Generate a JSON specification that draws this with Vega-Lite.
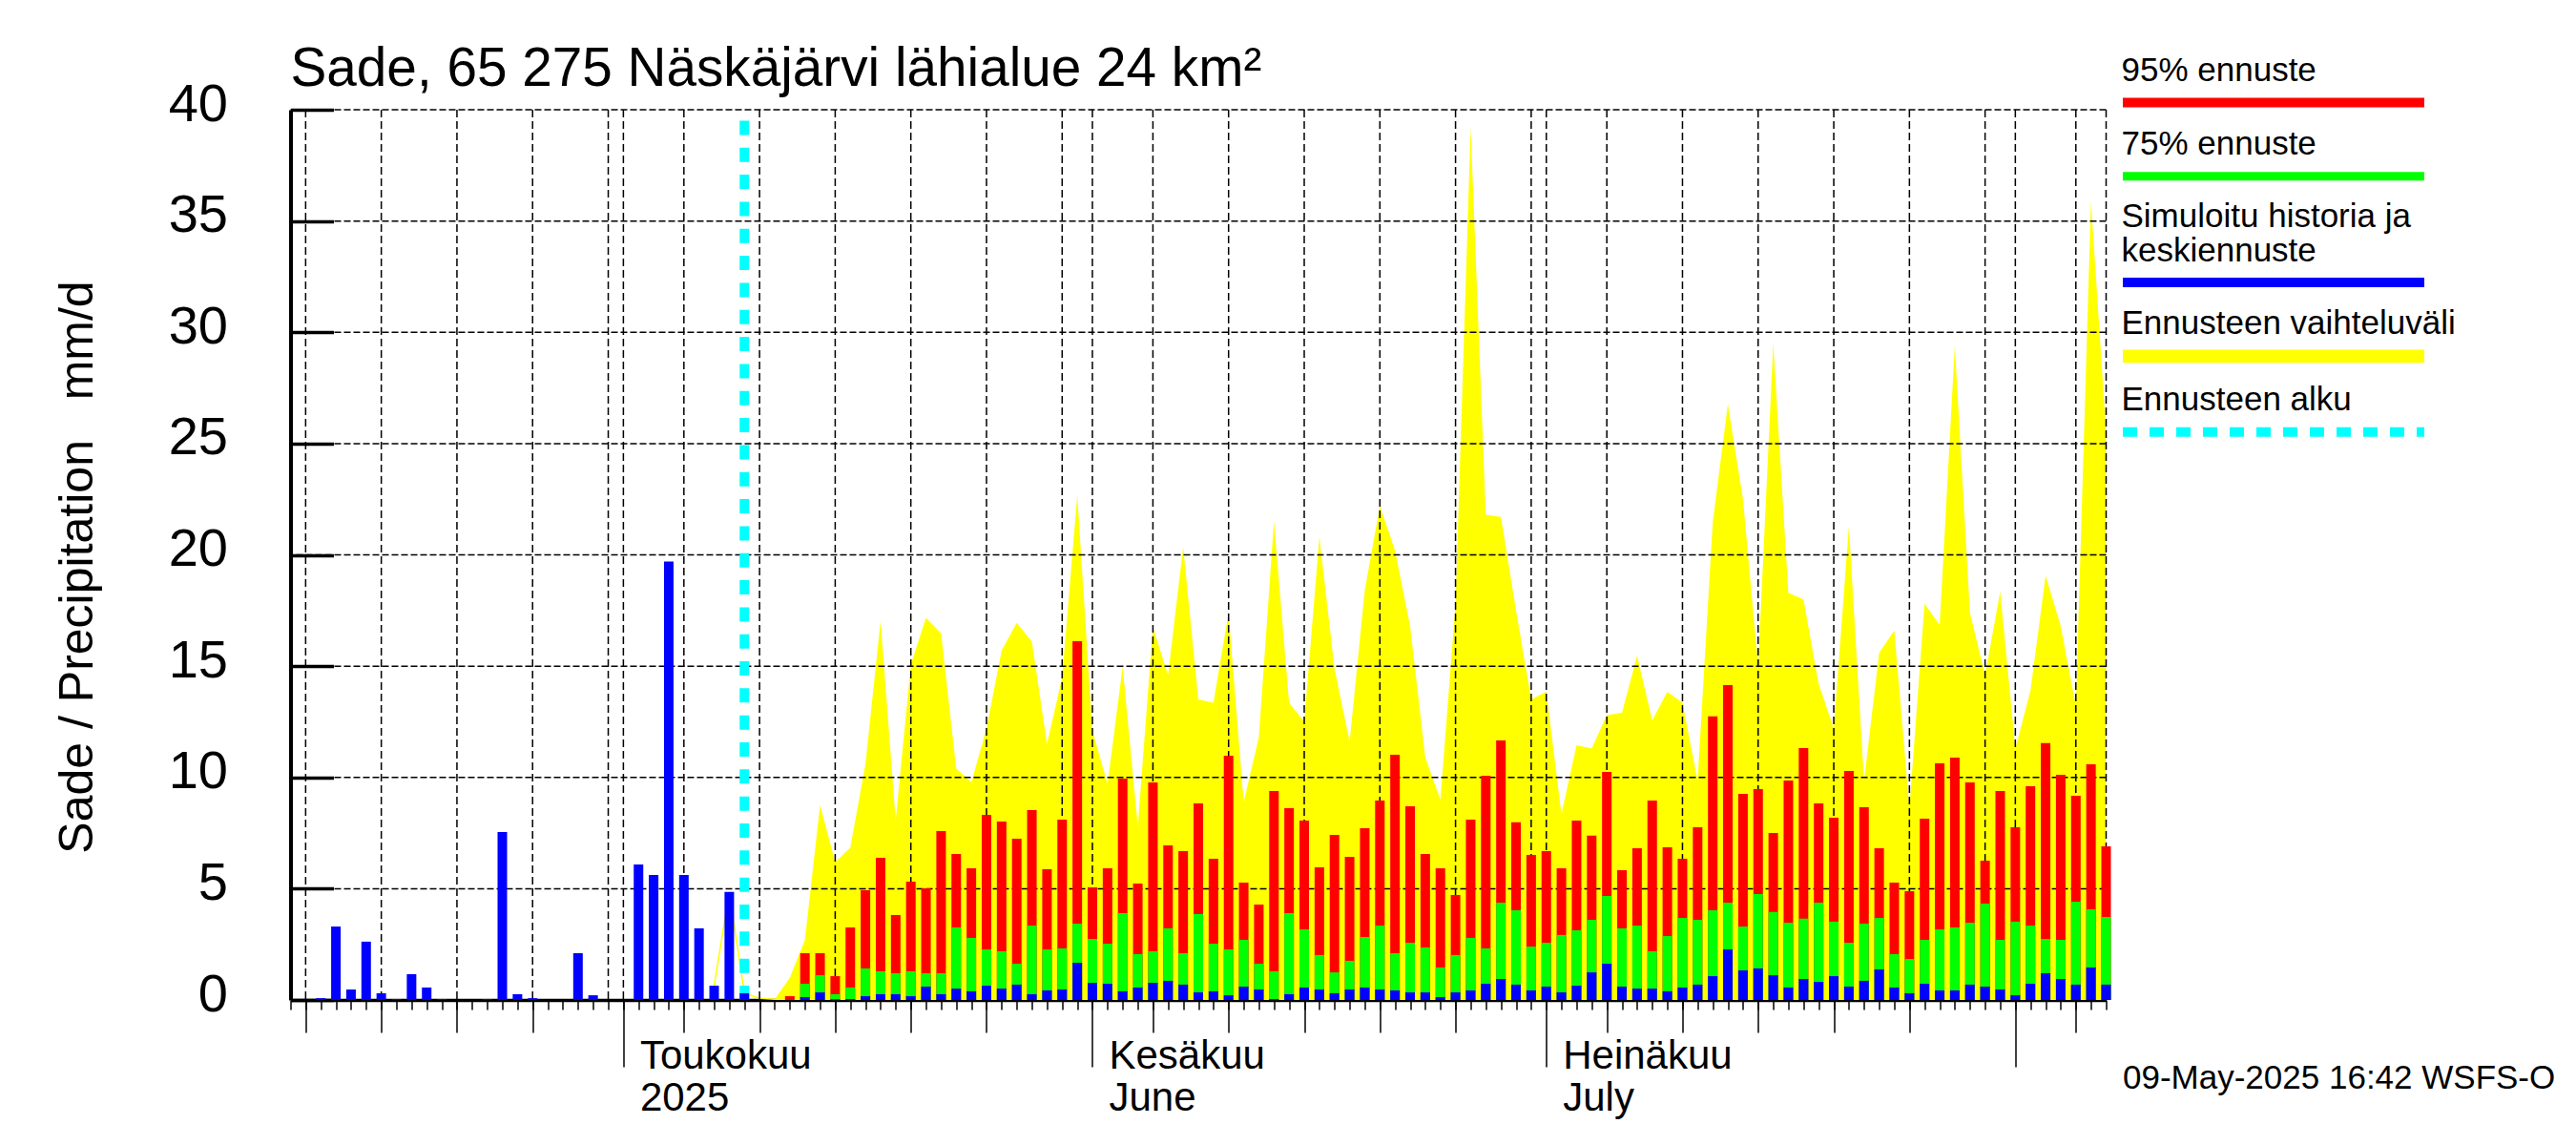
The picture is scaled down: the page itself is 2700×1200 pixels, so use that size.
{
  "$schema": "https://vega.github.io/schema/vega-lite/v6.json",
  "width": 1903,
  "height": 933,
  "autosize": {"type": "none"},
  "padding": {"left": 304.5, "top": 115, "right": 492.5, "bottom": 152},
  "background": "#ffffff",
  "title": {
    "text": "Sade, 65 275 Näskäjärvi lähialue 24 km²",
    "anchor": "start",
    "frame": "group",
    "font": "Liberation Sans",
    "fontSize": 56.7,
    "fontWeight": "normal",
    "color": "#000000",
    "baseline": "alphabetic",
    "offset": -66
  },
  "config": {
    "view": {"stroke": null},
    "axis": {
      "labelFont": "Liberation Sans",
      "titleFont": "Liberation Sans",
      "labelColor": "#000000",
      "titleColor": "#000000",
      "titleFontWeight": "normal",
      "domainColor": "#000000",
      "tickColor": "#000000",
      "zindex": 1,
      "grid": false
    }
  },
  "datasets": {
    "history": [
      {"date": "2025-04-11", "mean": 0.08},
      {"date": "2025-04-12", "mean": 3.3},
      {"date": "2025-04-13", "mean": 0.47},
      {"date": "2025-04-14", "mean": 2.62},
      {"date": "2025-04-15", "mean": 0.3},
      {"date": "2025-04-16", "mean": 0.04},
      {"date": "2025-04-17", "mean": 1.16},
      {"date": "2025-04-18", "mean": 0.56},
      {"date": "2025-04-19", "mean": 0.04},
      {"date": "2025-04-22", "mean": 0.04},
      {"date": "2025-04-23", "mean": 7.55},
      {"date": "2025-04-24", "mean": 0.26},
      {"date": "2025-04-25", "mean": 0.08},
      {"date": "2025-04-28", "mean": 2.1},
      {"date": "2025-04-29", "mean": 0.21},
      {"date": "2025-05-02", "mean": 6.09},
      {"date": "2025-05-03", "mean": 5.62},
      {"date": "2025-05-04", "mean": 19.7},
      {"date": "2025-05-05", "mean": 5.62},
      {"date": "2025-05-06", "mean": 3.22},
      {"date": "2025-05-07", "mean": 0.64},
      {"date": "2025-05-08", "mean": 4.85},
      {"date": "2025-05-09", "mean": 0.3}
    ],
    "spike": [
      {"date": "2025-05-07", "value": 0.64},
      {"date": "2025-05-08", "value": 4.85},
      {"date": "2025-05-09", "value": 0.3},
      {"date": "2025-05-10", "value": 0.08},
      {"date": "2025-05-11", "value": 0.03}
    ],
    "forecast": [
      {"date": "2025-05-11", "hi": 0.03, "p95": 0, "p75": 0, "mean": 0},
      {"date": "2025-05-12", "hi": 1.0, "p95": 0.17, "p75": 0, "mean": 0},
      {"date": "2025-05-13", "hi": 2.7, "p95": 2.1, "p75": 0.73, "mean": 0.13},
      {"date": "2025-05-14", "hi": 8.76, "p95": 2.1, "p75": 1.11, "mean": 0.34},
      {"date": "2025-05-15", "hi": 6.2, "p95": 1.07, "p75": 0.26, "mean": 0.03},
      {"date": "2025-05-16", "hi": 6.85, "p95": 3.26, "p75": 0.56, "mean": 0.04},
      {"date": "2025-05-17", "hi": 10.6, "p95": 4.93, "p75": 1.42, "mean": 0.17},
      {"date": "2025-05-18", "hi": 17.04, "p95": 6.39, "p75": 1.29, "mean": 0.26},
      {"date": "2025-05-19", "hi": 8.06, "p95": 3.82, "p75": 1.2, "mean": 0.26},
      {"date": "2025-05-20", "hi": 15.07, "p95": 5.32, "p75": 1.29, "mean": 0.17},
      {"date": "2025-05-21", "hi": 17.17, "p95": 5.02, "p75": 1.2, "mean": 0.6},
      {"date": "2025-05-22", "hi": 16.47, "p95": 7.59, "p75": 1.2, "mean": 0.26},
      {"date": "2025-05-23", "hi": 10.4, "p95": 6.56, "p75": 3.26, "mean": 0.51},
      {"date": "2025-05-24", "hi": 9.78, "p95": 5.92, "p75": 2.79, "mean": 0.39},
      {"date": "2025-05-25", "hi": 12.2, "p95": 8.32, "p75": 2.27, "mean": 0.64},
      {"date": "2025-05-26", "hi": 15.7, "p95": 8.02, "p75": 2.19, "mean": 0.51},
      {"date": "2025-05-27", "hi": 16.95, "p95": 7.25, "p75": 1.63, "mean": 0.69},
      {"date": "2025-05-28", "hi": 16.1, "p95": 8.53, "p75": 3.34, "mean": 0.26},
      {"date": "2025-05-29", "hi": 11.5, "p95": 5.87, "p75": 2.27, "mean": 0.43},
      {"date": "2025-05-30", "hi": 14.5, "p95": 8.1, "p75": 2.32, "mean": 0.47},
      {"date": "2025-05-31", "hi": 22.67, "p95": 16.12, "p75": 3.43, "mean": 1.67},
      {"date": "2025-06-01", "hi": 12.1, "p95": 5.06, "p75": 2.74, "mean": 0.77},
      {"date": "2025-06-02", "hi": 9.7, "p95": 5.92, "p75": 2.53, "mean": 0.73},
      {"date": "2025-06-03", "hi": 14.97, "p95": 9.95, "p75": 3.9, "mean": 0.39},
      {"date": "2025-06-04", "hi": 7.8, "p95": 5.23, "p75": 2.06, "mean": 0.56},
      {"date": "2025-06-05", "hi": 16.75, "p95": 9.78, "p75": 2.19, "mean": 0.77},
      {"date": "2025-06-06", "hi": 14.6, "p95": 6.95, "p75": 3.22, "mean": 0.86},
      {"date": "2025-06-07", "hi": 20.35, "p95": 6.69, "p75": 2.1, "mean": 0.69},
      {"date": "2025-06-08", "hi": 13.5, "p95": 8.83, "p75": 3.86, "mean": 0.34},
      {"date": "2025-06-09", "hi": 13.35, "p95": 6.35, "p75": 2.53, "mean": 0.39},
      {"date": "2025-06-10", "hi": 17.4, "p95": 10.98, "p75": 2.27, "mean": 0.21},
      {"date": "2025-06-11", "hi": 8.9, "p95": 5.27, "p75": 2.7, "mean": 0.6},
      {"date": "2025-06-12", "hi": 11.8, "p95": 4.29, "p75": 1.63, "mean": 0.47},
      {"date": "2025-06-13", "hi": 21.5, "p95": 9.39, "p75": 1.29, "mean": 0.04},
      {"date": "2025-06-14", "hi": 13.35, "p95": 8.62, "p75": 3.9, "mean": 0.26},
      {"date": "2025-06-15", "hi": 12.5, "p95": 8.06, "p75": 3.17, "mean": 0.56},
      {"date": "2025-06-16", "hi": 20.8, "p95": 5.96, "p75": 2.02, "mean": 0.47},
      {"date": "2025-06-17", "hi": 14.9, "p95": 7.42, "p75": 1.24, "mean": 0.3},
      {"date": "2025-06-18", "hi": 11.6, "p95": 6.43, "p75": 1.76, "mean": 0.47},
      {"date": "2025-06-19", "hi": 18.4, "p95": 7.72, "p75": 2.83, "mean": 0.56},
      {"date": "2025-06-20", "hi": 22.2, "p95": 8.96, "p75": 3.34, "mean": 0.47},
      {"date": "2025-06-21", "hi": 20.2, "p95": 11.02, "p75": 2.1, "mean": 0.43},
      {"date": "2025-06-22", "hi": 16.8, "p95": 8.7, "p75": 2.57, "mean": 0.34},
      {"date": "2025-06-23", "hi": 10.9, "p95": 6.56, "p75": 2.36, "mean": 0.34},
      {"date": "2025-06-24", "hi": 9.0, "p95": 5.92, "p75": 1.46, "mean": 0.13},
      {"date": "2025-06-25", "hi": 17.8, "p95": 4.72, "p75": 2.02, "mean": 0.34},
      {"date": "2025-06-26", "hi": 39.2, "p95": 8.1, "p75": 2.79, "mean": 0.43},
      {"date": "2025-06-27", "hi": 21.8, "p95": 10.08, "p75": 2.32, "mean": 0.73},
      {"date": "2025-06-28", "hi": 21.7, "p95": 11.66, "p75": 4.37, "mean": 0.94},
      {"date": "2025-06-29", "hi": 17.5, "p95": 7.98, "p75": 4.03, "mean": 0.69},
      {"date": "2025-06-30", "hi": 13.5, "p95": 6.52, "p75": 2.4, "mean": 0.43},
      {"date": "2025-07-01", "hi": 13.85, "p95": 6.69, "p75": 2.57, "mean": 0.6},
      {"date": "2025-07-02", "hi": 8.35, "p95": 5.92, "p75": 2.92, "mean": 0.34},
      {"date": "2025-07-03", "hi": 11.45, "p95": 8.06, "p75": 3.13, "mean": 0.64},
      {"date": "2025-07-04", "hi": 11.3, "p95": 7.38, "p75": 3.6, "mean": 1.24},
      {"date": "2025-07-05", "hi": 12.8, "p95": 10.25, "p75": 4.67, "mean": 1.63},
      {"date": "2025-07-06", "hi": 12.9, "p95": 5.83, "p75": 3.22, "mean": 0.6},
      {"date": "2025-07-07", "hi": 15.47, "p95": 6.82, "p75": 3.34, "mean": 0.51},
      {"date": "2025-07-08", "hi": 12.56, "p95": 8.96, "p75": 2.19, "mean": 0.51},
      {"date": "2025-07-09", "hi": 13.85, "p95": 6.86, "p75": 2.87, "mean": 0.39},
      {"date": "2025-07-10", "hi": 13.35, "p95": 6.35, "p75": 3.69, "mean": 0.56},
      {"date": "2025-07-11", "hi": 9.85, "p95": 7.76, "p75": 3.6, "mean": 0.69},
      {"date": "2025-07-12", "hi": 21.45, "p95": 12.74, "p75": 4.03, "mean": 1.07},
      {"date": "2025-07-13", "hi": 26.77, "p95": 14.15, "p75": 4.37, "mean": 2.27},
      {"date": "2025-07-14", "hi": 22.5, "p95": 9.26, "p75": 3.3, "mean": 1.33},
      {"date": "2025-07-15", "hi": 15.0, "p95": 9.48, "p75": 4.76, "mean": 1.42},
      {"date": "2025-07-16", "hi": 29.47, "p95": 7.5, "p75": 3.95, "mean": 1.11},
      {"date": "2025-07-17", "hi": 18.3, "p95": 9.86, "p75": 3.47, "mean": 0.56},
      {"date": "2025-07-18", "hi": 18.0, "p95": 11.32, "p75": 3.65, "mean": 0.94},
      {"date": "2025-07-19", "hi": 14.2, "p95": 8.83, "p75": 4.37, "mean": 0.81},
      {"date": "2025-07-20", "hi": 12.2, "p95": 8.19, "p75": 3.52, "mean": 1.07},
      {"date": "2025-07-21", "hi": 21.3, "p95": 10.29, "p75": 2.57, "mean": 0.6},
      {"date": "2025-07-22", "hi": 9.85, "p95": 8.66, "p75": 3.43, "mean": 0.86},
      {"date": "2025-07-23", "hi": 15.6, "p95": 6.82, "p75": 3.69, "mean": 1.37},
      {"date": "2025-07-24", "hi": 16.6, "p95": 5.27, "p75": 2.06, "mean": 0.56},
      {"date": "2025-07-25", "hi": 8.63, "p95": 4.89, "p75": 1.84, "mean": 0.3},
      {"date": "2025-07-26", "hi": 17.8, "p95": 8.15, "p75": 2.7, "mean": 0.73},
      {"date": "2025-07-27", "hi": 16.85, "p95": 10.63, "p75": 3.17, "mean": 0.43},
      {"date": "2025-07-28", "hi": 29.4, "p95": 10.89, "p75": 3.26, "mean": 0.43},
      {"date": "2025-07-29", "hi": 17.4, "p95": 9.78, "p75": 3.47, "mean": 0.69},
      {"date": "2025-07-30", "hi": 14.6, "p95": 6.26, "p75": 4.33, "mean": 0.6},
      {"date": "2025-07-31", "hi": 18.35, "p95": 9.39, "p75": 2.7, "mean": 0.47},
      {"date": "2025-08-01", "hi": 11.3, "p95": 7.76, "p75": 3.52, "mean": 0.21},
      {"date": "2025-08-02", "hi": 13.9, "p95": 9.6, "p75": 3.34, "mean": 0.73},
      {"date": "2025-08-03", "hi": 19.07, "p95": 11.54, "p75": 2.74, "mean": 1.2},
      {"date": "2025-08-04", "hi": 16.8, "p95": 10.12, "p75": 2.7, "mean": 0.94},
      {"date": "2025-08-05", "hi": 13.2, "p95": 9.18, "p75": 4.42, "mean": 0.69},
      {"date": "2025-08-06", "hi": 35.9, "p95": 10.59, "p75": 4.07, "mean": 1.46},
      {"date": "2025-08-07", "hi": 25.5, "p95": 6.9, "p75": 3.73, "mean": 0.69}
    ],
    "xgrid": [
      {"date": "2025-04-10"}, {"date": "2025-04-15"}, {"date": "2025-04-20"}, {"date": "2025-04-25"}, {"date": "2025-04-30"},
      {"date": "2025-05-01"}, {"date": "2025-05-05"}, {"date": "2025-05-10"}, {"date": "2025-05-15"}, {"date": "2025-05-20"}, {"date": "2025-05-25"}, {"date": "2025-05-30"},
      {"date": "2025-06-01"}, {"date": "2025-06-05"}, {"date": "2025-06-10"}, {"date": "2025-06-15"}, {"date": "2025-06-20"}, {"date": "2025-06-25"}, {"date": "2025-06-30"},
      {"date": "2025-07-01"}, {"date": "2025-07-05"}, {"date": "2025-07-10"}, {"date": "2025-07-15"}, {"date": "2025-07-20"}, {"date": "2025-07-25"}, {"date": "2025-07-30"},
      {"date": "2025-08-01"}, {"date": "2025-08-05"}, {"date": "2025-08-07"}
    ],
    "ygrid": [
      {"level": 5}, {"level": 10}, {"level": 15}, {"level": 20}, {"level": 25}, {"level": 30}, {"level": 35}, {"level": 40}
    ],
    "start": [
      {"date": "2025-05-09", "from": 0, "to": 40}
    ]
  },
  "resolve": {"axis": {"x": "independent"}},
  "layer": [
    {
      "data": {"name": "forecast"},
      "mark": {"type": "area", "color": "#ffff00", "interpolate": "linear"},
      "encoding": {
        "x": {
          "field": "date",
          "type": "temporal",
          "scale": {"type": "utc", "padding": 0, "domain": [{"year": 2025, "month": 4, "date": 9, "utc": true}, {"year": 2025, "month": 8, "date": 7, "utc": true}]},
          "axis": {
            "orient": "bottom",
            "title": "09-May-2025 16:42 WSFS-O",
            "titleFontSize": 35,
            "titleX": 1920,
            "titleY": 92,
            "titleAlign": "left",
            "titleBaseline": "alphabetic",
            "labels": false,
            "tickCount": {"interval": "day", "step": 1},
            "tickSize": 10,
            "tickWidth": 1.5,
            "domainWidth": 3.5
          }
        },
        "y": {
          "field": "hi",
          "type": "quantitative",
          "scale": {"domain": [0, 40], "nice": false},
          "axis": {
            "title": "Sade / Precipitation\u00a0\u00a0\u00a0mm/d",
            "titleFontSize": 50,
            "titleX": -208.5,
            "titleY": 479,
            "titleAngle": -90,
            "titleAlign": "center",
            "titleBaseline": "alphabetic",
            "values": [0, 5, 10, 15, 20, 25, 30, 35, 40],
            "labelFontSize": 56,
            "labelOffset": -6,
            "labelPadding": 111,
            "tickSize": -45,
            "tickWidth": 3.5,
            "domainWidth": 4
          }
        }
      }
    },
    {
      "data": {"name": "spike"},
      "mark": {"type": "line", "color": "#ffff00", "strokeWidth": 1.5},
      "encoding": {
        "x": {"field": "date", "type": "temporal", "axis": null},
        "y": {"field": "value", "type": "quantitative"}
      }
    },
    {
      "data": {"name": "xgrid"},
      "mark": {"type": "rule", "color": "#000000", "strokeWidth": 1.5, "strokeDash": [8, 4]},
      "encoding": {
        "x": {
          "field": "date",
          "type": "temporal",
          "axis": {
            "orient": "bottom",
            "title": null,
            "labels": false,
            "domain": false,
            "tickSize": 34,
            "tickWidth": 1.5,
            "values": [
              {"year": 2025, "month": 4, "date": 10, "utc": true}, {"year": 2025, "month": 4, "date": 15, "utc": true}, {"year": 2025, "month": 4, "date": 20, "utc": true}, {"year": 2025, "month": 4, "date": 25, "utc": true},
              {"year": 2025, "month": 5, "date": 5, "utc": true}, {"year": 2025, "month": 5, "date": 10, "utc": true}, {"year": 2025, "month": 5, "date": 15, "utc": true}, {"year": 2025, "month": 5, "date": 20, "utc": true}, {"year": 2025, "month": 5, "date": 25, "utc": true},
              {"year": 2025, "month": 6, "date": 5, "utc": true}, {"year": 2025, "month": 6, "date": 10, "utc": true}, {"year": 2025, "month": 6, "date": 15, "utc": true}, {"year": 2025, "month": 6, "date": 20, "utc": true}, {"year": 2025, "month": 6, "date": 25, "utc": true},
              {"year": 2025, "month": 7, "date": 5, "utc": true}, {"year": 2025, "month": 7, "date": 10, "utc": true}, {"year": 2025, "month": 7, "date": 15, "utc": true}, {"year": 2025, "month": 7, "date": 20, "utc": true}, {"year": 2025, "month": 7, "date": 25, "utc": true},
              {"year": 2025, "month": 8, "date": 5, "utc": true}
            ]
          }
        }
      }
    },
    {
      "data": {"name": "ygrid"},
      "mark": {"type": "rule", "color": "#000000", "strokeWidth": 1.5, "strokeDash": [7, 3]},
      "encoding": {
        "y": {"field": "level", "type": "quantitative"}
      }
    },
    {
      "data": {"name": "start"},
      "mark": {"type": "rule", "color": "#00ffff", "strokeWidth": 10, "strokeDash": [15, 13.33]},
      "encoding": {
        "x": {"field": "date", "type": "temporal", "axis": null},
        "y": {"field": "from", "type": "quantitative"},
        "y2": {"field": "to"}
      }
    },
    {
      "data": {"name": "forecast"},
      "mark": {"type": "bar", "size": 10},
      "encoding": {
        "x": {
          "field": "date",
          "type": "temporal",
          "axis": {
            "orient": "bottom",
            "title": null,
            "domain": false,
            "tickSize": 70,
            "tickWidth": 1.5,
            "values": [
              {"year": 2025, "month": 5, "date": 1, "utc": true},
              {"year": 2025, "month": 6, "date": 1, "utc": true},
              {"year": 2025, "month": 7, "date": 1, "utc": true},
              {"year": 2025, "month": 8, "date": 1, "utc": true}
            ],
            "labelExpr": "utcmonth(datum.value) == 4 ? ['Toukokuu', '2025'] : utcmonth(datum.value) == 5 ? ['Kesäkuu', 'June'] : utcmonth(datum.value) == 6 ? ['Heinäkuu', 'July'] : ''",
            "labelFontSize": 42,
            "labelLineHeight": 44.5,
            "labelAlign": "left",
            "labelBaseline": "top",
            "labelOffset": 17,
            "labelPadding": -32,
            "labelBound": false,
            "labelFlush": false,
            "labelOverlap": false
          }
        },
        "y": {"field": "p95", "type": "quantitative"},
        "color": {
          "datum": "95% ennuste",
          "scale": {
            "domain": ["95% ennuste", "75% ennuste", "Simuloitu historia ja keskiennuste", "Ennusteen vaihteluväli", "Ennusteen alku"],
            "range": ["#ff0000", "#00ff00", "#0000ff", "#ffff00", "#00ffff"]
          },
          "legend": {
            "orient": "none",
            "legendX": 2061,
            "legendY": -25,
            "title": null,
            "symbolType": "M-31.6,-1H31.6V1H-31.6Z",
            "symbolSize": 100,
            "symbolStrokeWidth": 0,
            "labelFont": "Liberation Sans",
            "labelFontSize": 35,
            "labelColor": "#000000",
            "labelLimit": 0,
            "labelOffset": -177,
            "rowPadding": 20.3,
            "labelExpr": "datum.value == 'Simuloitu historia ja keskiennuste' ? ['Simuloitu historia ja', 'keskiennuste'] : datum.label",
            "encoding": {
              "labels": {
                "baseline": {"value": "alphabetic"},
                "lineHeight": {"value": 36},
                "dy": {"condition": {"test": "datum.value == 'Simuloitu historia ja keskiennuste'", "value": -58}, "value": -23}
              },
              "symbols": {
                "shape": {
                  "condition": [
                    {"test": "datum.value == '75% ennuste'", "value": "M-31.6,-0.9H31.6V0.9H-31.6Z"},
                    {"test": "datum.value == 'Ennusteen vaihteluväli'", "value": "M-31.6,-1.37H31.6V1.37H-31.6Z"},
                    {"test": "datum.value == 'Ennusteen alku'", "value": "M-31.6,-1H-28.6V1H-31.6ZM-26,-1H-23V1H-26ZM-20.4,-1H-17.4V1H-20.4ZM-14.8,-1H-11.8V1H-14.8ZM-9.2,-1H-6.2V1H-9.2ZM-3.6,-1H-0.6V1H-3.6ZM2,-1H5V1H2ZM7.6,-1H10.6V1H7.6ZM13.2,-1H16.2V1H13.2ZM18.8,-1H21.8V1H18.8ZM24.4,-1H27.4V1H24.4ZM30,-1H31.6V1H30Z"}
                  ],
                  "value": "M-31.6,-1H31.6V1H-31.6Z"
                }
              }
            }
          }
        }
      }
    },
    {
      "data": {"name": "forecast"},
      "mark": {"type": "bar", "size": 10},
      "encoding": {
        "x": {"field": "date", "type": "temporal", "axis": null},
        "y": {"field": "p75", "type": "quantitative"},
        "color": {"datum": "75% ennuste"}
      }
    },
    {
      "data": {"name": "forecast"},
      "mark": {"type": "bar", "size": 10},
      "encoding": {
        "x": {"field": "date", "type": "temporal", "axis": null},
        "y": {"field": "mean", "type": "quantitative"},
        "color": {"datum": "Simuloitu historia ja keskiennuste"}
      }
    },
    {
      "data": {"name": "history"},
      "mark": {"type": "bar", "size": 10},
      "encoding": {
        "x": {"field": "date", "type": "temporal", "axis": null},
        "y": {"field": "mean", "type": "quantitative"},
        "color": {"datum": "Simuloitu historia ja keskiennuste"}
      }
    }
  ]
}
